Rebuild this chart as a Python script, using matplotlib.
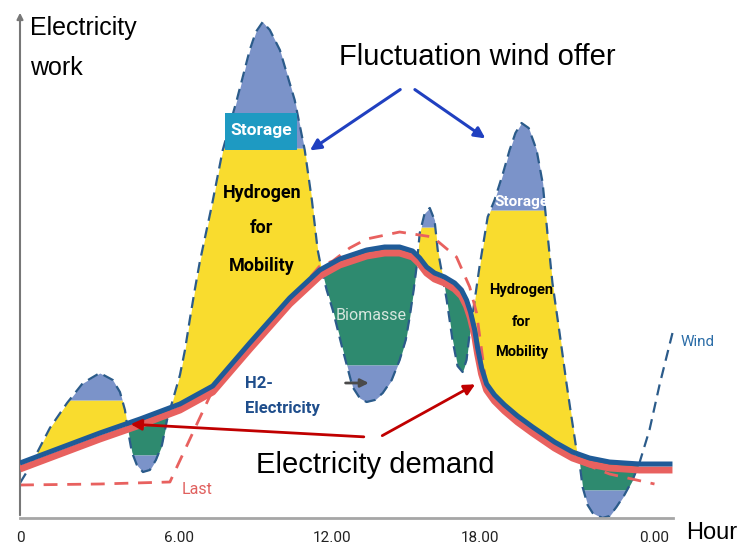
import numpy as np
import matplotlib.pyplot as plt

# wind offer (dashed curve), hours vs. electricity work (arbitrary units)
h_wind = [0.00, 0.30, 0.64, 1.13, 1.78, 2.38, 3.02, 3.51, 3.78, 3.97,
          4.08, 4.23, 4.42, 4.65, 4.91, 5.14, 5.37, 5.56, 5.78, 6.05,
          6.24, 6.42, 6.61, 6.80, 7.26, 7.67, 8.20, 8.69, 8.92, 9.18,
          9.45, 9.83, 10.39, 10.77, 11.04, 11.26, 11.41, 11.60, 11.83, 12.21,
          12.58, 12.85, 13.11, 13.42, 13.72, 14.06, 14.36, 14.59, 14.74, 14.89,
          15.00, 15.12, 15.31, 15.50, 15.68, 15.80, 15.99, 16.14, 16.36, 16.55,
          16.74, 16.89, 17.01, 17.20, 17.38, 17.69, 17.95, 18.25, 18.52, 18.74,
          18.97, 19.24, 19.54, 19.77, 19.95, 20.14, 20.41, 20.67, 20.86, 21.05,
          21.16, 21.28, 21.47, 21.66, 22.03, 22.30, 22.56, 22.86, 23.17, 23.43,
          23.81, 24.19, 24.68]
wind = [35, 48, 65, 90, 115, 135, 145, 138, 126, 108,
        88, 66, 53, 46, 48, 58, 73, 98, 118, 143,
        168, 198, 228, 256, 313, 368, 418, 468, 486, 496,
        488, 468, 418, 368, 318, 268, 248, 228, 208, 168,
        131, 120, 116, 118, 125, 138, 158, 178, 201, 228,
        251, 285, 305, 310, 298, 268, 241, 218, 178, 152,
        146, 158, 185, 218, 251, 301, 318, 343, 368, 385,
        395, 390, 368, 335, 285, 235, 185, 135, 101, 68,
        56, 31, 13, 5, 0, 2, 11, 23, 38, 55,
        88, 133, 185]

# demand curves
h_dem = [0.00, 1.51, 3.02, 4.54, 6.05, 7.29, 8.69, 10.20, 11.34, 12.09,
         13.11, 13.79, 14.36, 14.85, 15.12, 15.38, 15.68, 16.06, 16.44, 16.70,
         16.89, 17.04, 17.20, 17.31, 17.46, 17.65, 17.95, 18.33, 18.82, 19.39,
         20.22, 20.90, 21.54, 22.30, 23.43, 24.68]
h2_el = [55, 70, 85, 99, 114, 132, 175, 220, 248, 259,
         268, 271, 271, 267, 260, 251, 245, 241, 235, 228,
         218, 206, 188, 170, 150, 134, 123, 113, 102, 91,
         76, 66, 60, 56, 54, 54]
demand = [49, 64, 79, 93, 108, 126, 169, 214, 242, 253,
          262, 265, 265, 261, 254, 245, 239, 235, 229, 222,
          212, 200, 182, 164, 144, 128, 117, 107, 96, 85,
          70, 60, 54, 50, 48, 48]

# "Last" (load) dashed curve
h_last = [0.00, 3.02, 5.67, 7.29, 11.34, 11.83, 12.47, 13.11, 14.36, 15.61,
          16.51, 17.01, 17.27, 17.46, 17.65, 18.33, 19.39, 20.22, 21.16, 22.30, 24.00]
last = [33, 34, 36, 128, 252, 257, 270, 279, 286, 281,
        261, 231, 205, 168, 130, 108, 87, 72, 56, 44, 34]

# (start hour, end hour, storage level) for surplus and deficit phases
surplus = [(0.5, 4.1, 118), (5.5, 11.45, 370), (14.9, 16.05, 291), (17.0, 21.2, 308)]
deficit = [(4.0, 6.0, 63), (11.3, 15.1, 153), (15.9, 17.2, -1), (20.9, 23.6, 28)]

tick_pos = [0, 6, 11.8, 17.4, 24]
tick_labels = ['0', '6.00', '12.00', '18.00', '0.00']

YELLOW = '#f9dc2e'
STORE = '#7b93c9'
GREEN = '#2e8a6f'
TEAL = '#1e9ac2'
WINDC = '#2b5b8a'
BLUE = '#1f5b98'
RED = '#e8615f'
NARROW = ['Roboto', 'DejaVu Sans']
SANS = ['Liberation Sans', 'DejaVu Sans']

fig = plt.figure(figsize=(7.41, 5.5), dpi=100)
ax = fig.add_axes([20/741, 32/550, 653/741, 508/550])
ax.set_xlim(0, 24.7)
ax.set_ylim(0, 508)

xx = np.linspace(0, 24.68, 5000)
w = np.interp(xx, h_wind, wind)
d = np.interp(xx, h_dem, h2_el)
for a, b, lvl in surplus:
    seg = (xx >= a) & (xx <= b)
    ax.fill_between(xx, d, np.minimum(w, lvl), where=seg & (w > d),
                    color=YELLOW, lw=0, interpolate=True, zorder=1)
    ax.fill_between(xx, lvl, w, where=seg & (w > lvl),
                    color=STORE, lw=0, interpolate=True, zorder=1)
for a, b, lvl in deficit:
    seg = (xx >= a) & (xx <= b)
    ax.fill_between(xx, np.maximum(w, lvl), d, where=seg & (w < d),
                    color=GREEN, lw=0, interpolate=True, zorder=1)
    ax.fill_between(xx, w, lvl, where=seg & (w < lvl),
                    color=STORE, lw=0, interpolate=True, zorder=1)

ax.plot(h_wind, wind, color=WINDC, lw=1.6, dashes=(5, 3), zorder=2, clip_on=False)
ax.plot(h_last, last, color=RED, lw=2, dashes=(5, 3.5), zorder=3, clip_on=False)
ax.plot(h_dem, demand, color=RED, lw=5, zorder=4, solid_capstyle='butt')
ax.plot(h_dem, h2_el, color=BLUE, lw=3.6, zorder=5, solid_capstyle='butt')

# storage box on the big peak
ax.add_patch(plt.Rectangle((7.75, 368), 2.72, 37, color=TEAL, lw=0, zorder=6))
ax.text(9.11, 387, 'Storage', color='white', fontsize=12.5, fontweight='bold',
        family=NARROW, ha='center', va='center', zorder=7)
for txt, y in [('Hydrogen', 325), ('for', 290), ('Mobility', 252)]:
    ax.text(9.15, y, txt, fontsize=13, fontweight='bold', family=NARROW,
            ha='center', va='center', zorder=7)
ax.text(18.97, 316, 'Storage', color='white', fontsize=11, fontweight='bold',
        family=NARROW, ha='center', va='center', zorder=7)
for txt, y in [('Hydrogen', 228), ('for', 196), ('Mobility', 166)]:
    ax.text(18.97, y, txt, fontsize=10.5, fontweight='bold', family=NARROW,
            ha='center', va='center', zorder=7)
ax.text(13.27, 203, 'Biomasse', color='#d6e6de', fontsize=11.5, family=NARROW,
        ha='center', va='center', zorder=7)
ax.text(8.5, 135, 'H2-', color='#1f4e8c', fontsize=12, fontweight='bold',
        family=NARROW, ha='left', va='center', zorder=7)
ax.text(8.5, 110, 'Electricity', color='#1f4e8c', fontsize=12, fontweight='bold',
        family=NARROW, ha='left', va='center', zorder=7)
ax.text(6.12, 28, 'Last', color='#e0605e', fontsize=11.5, family=NARROW,
        ha='left', va='center', zorder=7)
ax.text(24.98, 176, 'Wind', color='#2d6ea8', fontsize=11, family=NARROW,
        ha='left', va='center', zorder=7)

ax.text(0.38, 490, 'Electricity', fontsize=18, family=SANS, ha='left', va='center')
ax.text(0.38, 450, 'work', fontsize=18, family=SANS, ha='left', va='center')
ax.text(17.31, 461, 'Fluctuation wind offer', fontsize=21, family=SANS,
        ha='center', va='center')
ax.text(13.45, 53, 'Electricity demand', fontsize=21, family=SANS,
        ha='center', va='center', zorder=7)
ax.text(25.2, -15, 'Hour', fontsize=17, family=SANS, ha='left', va='center')

# arrows
arr_blue = dict(arrowstyle='-|>', color='#2040c0', lw=2.2, mutation_scale=16)
ax.annotate('', xy=(10.88, 366), xytext=(14.47, 430), arrowprops=arr_blue)
ax.annotate('', xy=(17.69, 378), xytext=(14.85, 430), arrowprops=arr_blue)
arr_red = dict(arrowstyle='-|>', color='#c00000', lw=2, mutation_scale=16)
ax.annotate('', xy=(4.08, 94), xytext=(13.11, 81), arrowprops=arr_red, zorder=8)
ax.annotate('', xy=(17.31, 135), xytext=(13.61, 81), arrowprops=arr_red, zorder=8)
ax.annotate('', xy=(13.30, 135), xytext=(12.21, 135),
            arrowprops=dict(arrowstyle='-|>', color='#4a4a4a', lw=2, mutation_scale=12),
            zorder=8)

# axes
for s in ['top', 'right', 'left']:
    ax.spines[s].set_visible(False)
ax.spines['bottom'].set_color('#a6a6a6')
ax.spines['bottom'].set_linewidth(2)
ax.annotate('', xy=(0, 1.0), xytext=(0, 0), xycoords='axes fraction',
            arrowprops=dict(arrowstyle='-|>', color='#777777', lw=1.5, mutation_scale=9))
ax.set_yticks([])
ax.set_xticks(tick_pos, tick_labels)
ax.tick_params(axis='x', length=0, pad=9, labelsize=11, labelcolor='#222222')
for lab in ax.get_xticklabels():
    lab.set_family(NARROW)

fig.savefig('out.png', dpi=100)
